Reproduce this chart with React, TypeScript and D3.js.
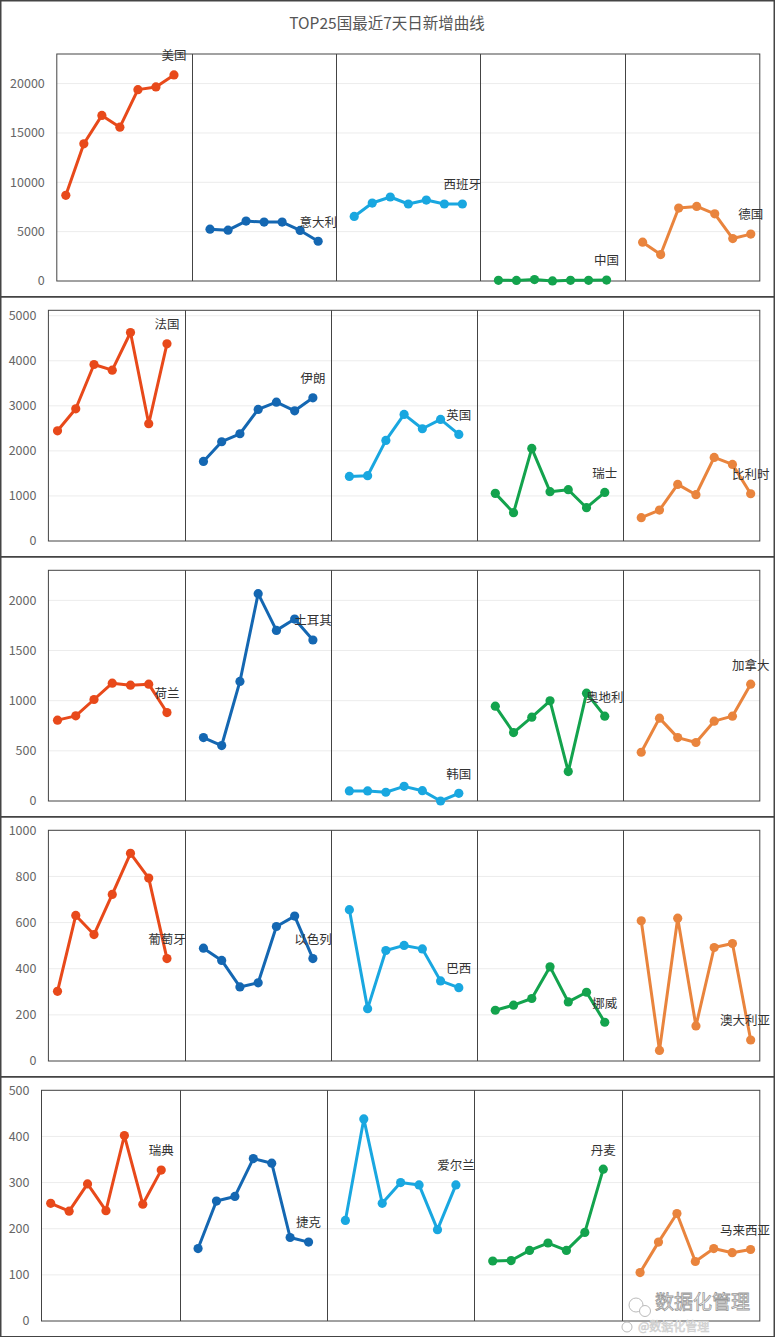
import React from 'react';
import * as d3 from 'd3';

const chartTitle = 'TOP25国最近7天日新增曲线';
const seriesColors = ['#E8491A', '#1467B2', '#19A7E0', '#13A34D', '#E9843D'];

const row1Countries = ['美国', '意大利', '西班牙', '中国', '德国'];
const row1Values = [
  [8680, 13900, 16780, 15590, 19390, 19660, 20880],
  [5250, 5150, 6070, 5970, 5970, 5120, 4030],
  [6540, 7900, 8510, 7800, 8200, 7800, 7800],
  [70, 60, 140, 10, 70, 70, 90],
  [3930, 2680, 7390, 7560, 6810, 4300, 4750],
];
const row1Ticks = [0, 5000, 10000, 15000, 20000];
const row1Max = 23000;

const row2Countries = ['法国', '伊朗', '英国', '瑞士', '比利时'];
const row2Values = [
  [2446, 2934, 3917, 3792, 4627, 2602, 4375],
  [1766, 2203, 2380, 2919, 3082, 2890, 3178],
  [1434, 1449, 2232, 2809, 2491, 2698, 2365],
  [1057, 628, 2055, 1094, 1138, 739, 1079],
  [517, 687, 1256, 1027, 1855, 1700, 1049],
];
const row2Ticks = [0, 1000, 2000, 3000, 4000, 5000];
const row2Max = 5120;

const row3Countries = ['荷兰', '土耳其', '韩国', '奥地利', '加拿大'];
const row3Values = [
  [806, 849, 1012, 1175, 1155, 1165, 882],
  [632, 553, 1192, 2067, 1701, 1814, 1605],
  [100, 100, 87, 146, 103, 0, 77],
  [945, 682, 836, 999, 293, 1075, 846],
  [486, 826, 632, 583, 796, 846, 1165],
];
const row3Ticks = [0, 500, 1000, 1500, 2000];
const row3Max = 2300;

const row4Countries = ['葡萄牙', '以色列', '巴西', '挪威', '澳大利亚'];
const row4Values = [
  [302, 631, 548, 722, 900, 793, 444],
  [489, 436, 321, 339, 583, 628, 444],
  [656, 227, 479, 501, 486, 347, 318],
  [220, 242, 271, 408, 256, 298, 168],
  [608, 46, 619, 152, 492, 509, 91],
];
const row4Ticks = [0, 200, 400, 600, 800, 1000];
const row4Max = 1000;

const row5Countries = ['瑞典', '捷克', '爱尔兰', '丹麦', '马来西亚'];
const row5Values = [
  [255, 238, 297, 239, 402, 253, 327],
  [157, 260, 270, 352, 342, 181, 171],
  [218, 438, 255, 300, 295, 198, 295],
  [130, 131, 153, 169, 153, 192, 329],
  [105, 171, 233, 129, 157, 148, 155],
];
const row5Ticks = [0, 100, 200, 300, 400, 500];
const row5Max = 500;

const rowsData = [
  { countries: row1Countries, values: row1Values, ticks: row1Ticks, max: row1Max },
  { countries: row2Countries, values: row2Values, ticks: row2Ticks, max: row2Max },
  { countries: row3Countries, values: row3Values, ticks: row3Ticks, max: row3Max },
  { countries: row4Countries, values: row4Values, ticks: row4Ticks, max: row4Max },
  { countries: row5Countries, values: row5Values, ticks: row5Ticks, max: row5Max },
];

// layout (pixels)
const W = 775;
const H = 1337;
const rowLayout = [
  { top: 0, bottom: 296, left: 56.8, pTop: 54, pBottom: 281 },
  { top: 296, bottom: 556, left: 48.4, pTop: 310.3, pBottom: 541 },
  { top: 556, bottom: 816, left: 48.4, pTop: 570.3, pBottom: 801 },
  { top: 816, bottom: 1076, left: 48.4, pTop: 830.3, pBottom: 1061 },
  { top: 1076, bottom: 1336, left: 41.5, pTop: 1090.3, pBottom: 1321 },
];
const plotRight = 759.8;
const FONT = '"Noto Sans CJK SC", "Microsoft YaHei", sans-serif';
const DAYS = 7;
const SLOT = DAYS + 1;
const LABEL_FS = 12.5;

function Row({ idx }: { idx: number }) {
  const data = rowsData[idx];
  const L = rowLayout[idx];
  const nCats = data.countries.length * SLOT - 1;
  const x = d3
    .scaleBand<number>()
    .domain(d3.range(nCats))
    .range([L.left, plotRight])
    .padding(0);
  const cx = (i: number) => (x(i) as number) + x.bandwidth() / 2;
  const y = d3.scaleLinear().domain([0, data.max]).range([L.pBottom, L.pTop]);
  const line = d3
    .line<[number, number]>()
    .x((d) => cx(d[0]))
    .y((d) => y(d[1]));

  return (
    <g>
      {data.ticks.map((t) => (
        <g key={t}>
          {t > 0 && (
            <line x1={L.left} x2={plotRight} y1={y(t)} y2={y(t)} stroke="#ececec" strokeWidth={1} />
          )}
          <text
            x={L.left - 12}
            y={y(t)}
            dy="0.35em"
            textAnchor="end"
            fontSize={12.5}
            fill="#666"
            fontFamily={FONT}
          >
            {t}
          </text>
        </g>
      ))}
      <rect
        x={L.left}
        y={L.pTop}
        width={plotRight - L.left}
        height={L.pBottom - L.pTop}
        fill="none"
        stroke="#444"
        strokeWidth={1}
      />
      {data.countries.slice(0, -1).map((c, s) => {
        const dx = Math.round(cx(s * SLOT + DAYS)) + 0.5;
        return <line key={c} x1={dx} x2={dx} y1={L.pTop} y2={L.pBottom} stroke="#444" strokeWidth={1} />;
      })}
      {data.countries.map((c, s) => {
        const pts: [number, number][] = data.values[s].map((v, d) => [s * SLOT + d, v]);
        const last = pts[pts.length - 1];
        const halfW = (c.length * LABEL_FS) / 2;
        const lx = Math.min(cx(last[0]), 770 - halfW);
        return (
          <g key={c}>
            <path d={line(pts) || ''} fill="none" stroke={seriesColors[s]} strokeWidth={3} strokeLinejoin="round" />
            {pts.map((p, k) => (
              <circle key={k} cx={cx(p[0])} cy={y(p[1])} r={4.6} fill={seriesColors[s]} />
            ))}
            <text
              x={lx}
              y={y(last[1]) - 19}
              dy="0.35em"
              textAnchor="middle"
              fontSize={LABEL_FS}
              fill="#333"
              fontFamily={FONT}
            >
              {c}
            </text>
          </g>
        );
      })}
      <rect
        x={0.75}
        y={L.top + 0.75}
        width={W - 1.5}
        height={L.bottom - L.top}
        fill="none"
        stroke="#444"
        strokeWidth={1.5}
      />
    </g>
  );
}

export default function App() {
  return (
    <svg
      width={W}
      height={H}
      style={{ position: 'absolute', left: 0, top: 0, background: '#fff' }}
    >
      <rect width={W} height={H} fill="#fff" />
      <text x={387} y={24} dy="0.35em" textAnchor="middle" fontSize={15.5} fill="#555" fontFamily={FONT}>
        {chartTitle}
      </text>
      {rowsData.map((_, i) => (
        <Row key={i} idx={i} />
      ))}
      <g fontFamily={FONT}>
        <circle cx={636} cy={1305} r={7} fill="#fff" stroke="#bbb" strokeWidth={1} />
        <circle cx={645} cy={1311} r={5.5} fill="#fff" stroke="#bbb" strokeWidth={1} />
        <circle cx={627} cy={1327} r={5} fill="#fff" stroke="#bbb" strokeWidth={1} />
        <text x={655} y={1302} dy="0.35em" fontSize={19} fill="#fff" stroke="#999" strokeWidth={0.8}>
          数据化管理
        </text>
        <text x={638} y={1327} dy="0.35em" fontSize={12} fill="#f4f4f4" stroke="#ccc" strokeWidth={0.6}>
          @数据化管理
        </text>
      </g>
    </svg>
  );
}
